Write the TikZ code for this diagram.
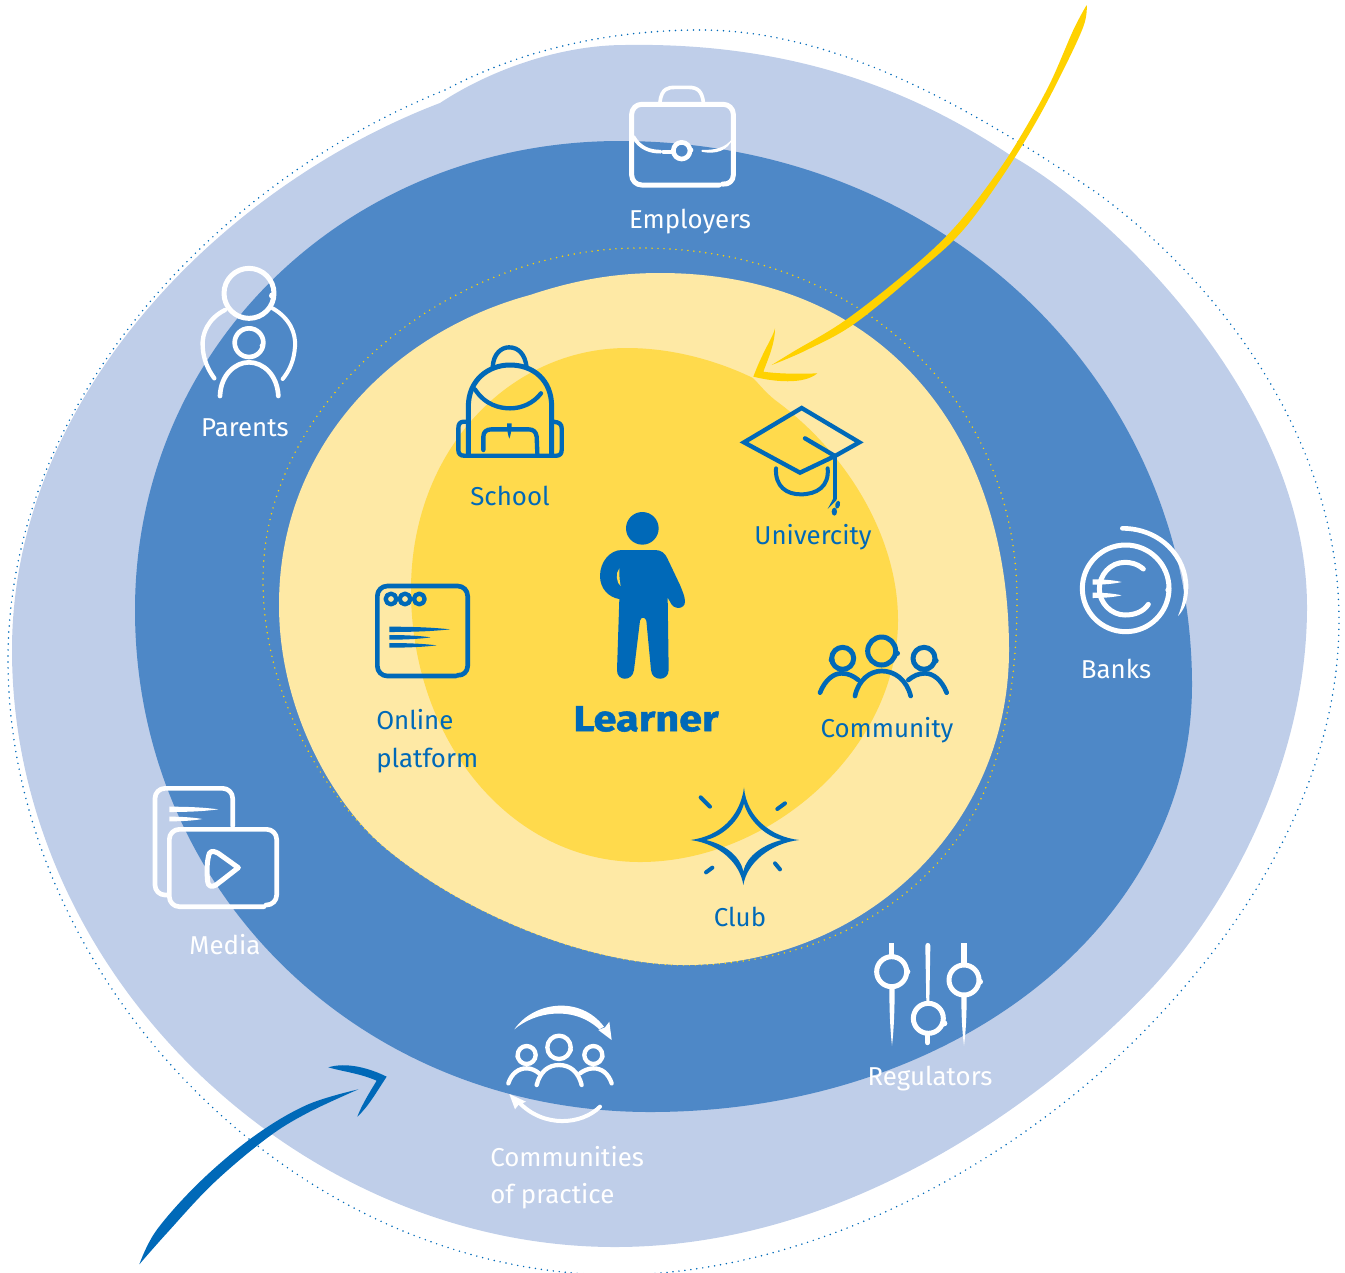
\documentclass[tikz,border=0pt]{standalone}
\usepackage{fontspec}
\setmainfont{Fira Sans}
\newfontfamily\heavyfont[FakeBold=1.5,FakeStretch=1.15]{Fira Sans Bold}
\definecolor{lblue}{HTML}{BFCEE9}
\definecolor{mblue}{HTML}{4E88C7}
\definecolor{dblue}{HTML}{0069B8}
\definecolor{lyel}{HTML}{FEE9A5}
\definecolor{myel}{HTML}{FFDA4C}
\definecolor{dyel}{HTML}{FFD200}
\tikzset{
  zm/.style 2 args={shift={(#1,#2)},x=.25pt,y=-.25pt},
  ic/.style={line cap=round,line join=round,line width=#1*.25pt},
  dots/.style={draw=#1,line width=1.25pt,line cap=round,dash pattern=on 0pt off 4.5pt},
  lab/.style={font=\fontsize{19.4pt}{24pt}\selectfont,inner sep=0pt,text=#1},
}
% horizontal and vertical tapered strokes: round at start, pointed at end
\newcommand{\hbrush}[4]{\fill ({#1},{#3-#4}) .. controls ({(#1+#2)/2},{#3-#4}) and ({#1+.8*(#2-#1)},{#3-.5*#4}) .. ({#2},{#3}) .. controls ({#1+.8*(#2-#1)},{#3+.5*#4}) and ({(#1+#2)/2},{#3+#4}) .. ({#1},{#3+#4}) -- cycle;}
\newcommand{\vbrush}[4]{\fill ({#1-#4},{#2}) .. controls ({#1-#4},{(#2+#3)/2}) and ({#1-.5*#4},{#2+.8*(#3-#2)}) .. ({#1},{#3}) .. controls ({#1+.5*#4},{#2+.8*(#3-#2)}) and ({#1+#4},{(#2+#3)/2}) .. ({#1+#4},{#2}) -- cycle;}
\begin{document}
\begin{tikzpicture}[x=.75pt,y=-.75pt]
\useasboundingbox (0,0) rectangle (1345,1272);
% blobs
\fill[lblue] (440,103) .. controls (490,70) and (560,45) .. (625,45)
  .. controls (800,42) and (920,95) .. (1010,155)
  .. controls (1110,210) and (1307,400) .. (1307,607)
  .. controls (1307,760) and (1230,905) .. (1150,990)
  .. controls (1060,1085) and (860,1247) .. (615,1247)
  .. controls (300,1247) and (12,975) .. (12,650)
  .. controls (12,395) and (225,185) .. (440,103) -- cycle;
\draw[dots=dblue] (445,90) .. controls (520,50) and (610,30) .. (700,30)
  .. controls (830,30) and (960,100) .. (1097,193)
  .. controls (1230,290) and (1339,450) .. (1339,620)
  .. controls (1339,770) and (1260,910) .. (1150,1025)
  .. controls (1030,1150) and (830,1272) .. (620,1275)
  .. controls (290,1275) and (8,975) .. (8,660)
  .. controls (8,400) and (220,180) .. (445,90) -- cycle;
\fill[mblue] (620,141) .. controls (940,141) and (1192,380) .. (1192,685)
  .. controls (1192,925) and (954,1112) .. (650,1112)
  .. controls (360,1112) and (135,891) .. (135,610)
  .. controls (135,347) and (348,141) .. (620,141) -- cycle;
\draw[dots=dyel] (640,248) .. controls (860,248) and (1017,400) .. (1017,600)
  .. controls (1017,690) and (1000,780) .. (960,835)
  .. controls (900,920) and (800,965) .. (685,965)
  .. controls (590,965) and (463,914) .. (383,846)
  .. controls (320,792) and (263,690) .. (263,580)
  .. controls (263,400) and (450,248) .. (640,248) -- cycle;
\fill[lyel] (660,273) .. controls (880,273) and (1009,430) .. (1009,650)
  .. controls (1009,830) and (860,965) .. (685,965)
  .. controls (590,965) and (463,914) .. (383,846)
  .. controls (333,803) and (279,710) .. (279,605)
  .. controls (279,440) and (400,330) .. (530,295)
  .. controls (575,280) and (615,273) .. (660,273) -- cycle;
\fill[myel] (627,348) .. controls (675,348) and (720,362) .. (753,378)
  .. controls (760,385) and (765,392) .. (775,400)
  .. controls (850,455) and (898,540) .. (898,620)
  .. controls (898,750) and (770,862) .. (640,862)
  .. controls (510,862) and (411,740) .. (411,590)
  .. controls (411,450) and (510,348) .. (627,348) -- cycle;

% yellow arrow
\begin{scope}[zm={740}{0},fill=dyel]
\fill plot[smooth,tension=.6] coordinates {(1040,15)(1030,80)(960,230)(880,380)(780,540)(665,695)(540,810)(345,970)(200,1050)(95,1095)} -- plot[smooth,tension=.6] coordinates {(95,1095)(160,1055)(320,958)(520,800)(650,675)(770,520)(850,395)(930,250)(1000,90)(1040,15)} -- cycle;
\fill (105,985) .. controls (100,1010) and (70,1050) .. (40,1130) .. controls (100,1145) and (190,1155) .. (232,1120) .. controls (180,1122) and (120,1122) .. (70,1115) .. controls (85,1075) and (105,1030) .. (105,985) -- cycle;
\end{scope}

% blue arrow
\begin{scope}[zm={120}{1050},fill=dblue]
\fill plot[smooth,tension=.6] coordinates {(58,643)(110,540)(240,395)(400,260)(560,165)(715,118)} -- plot[smooth,tension=.6] coordinates {(715,118)(560,190)(440,265)(280,400)(140,550)(58,643)} -- cycle;
\fill (625,52) .. controls (680,35) and (750,55) .. (800,80) .. controls (770,125) and (745,170) .. (712,200) .. controls (725,165) and (750,125) .. (770,92) .. controls (720,70) and (670,65) .. (625,52) -- cycle;
\end{scope}

% Employers icon
\begin{scope}[zm={600}{70},draw=white,fill=white]
\draw[ic=15,rounded corners=7.5pt] (358,345) -- (95,345) -- (95,103) -- (400,103) -- (400,345) -- (368,342);
\draw[ic=11] (180,95) .. controls (185,55) and (205,52) .. (225,52) -- (265,52) .. controls (295,52) and (305,65) .. (310,95);
\draw[ic=11] (100,200) .. controls (120,235) and (150,245) .. (182,245);
\draw[ic=11] (190,245) -- (215,245);
\draw[ic=14] (245,242) circle (25);
\fill (272,240) circle (8);
\fill (305,240) .. controls (345,240) and (375,235) .. (398,205) .. controls (385,240) and (350,255) .. (305,245) -- cycle;
\end{scope}
\node[lab=white] (lemp) at (690,222) {Employers};

% Parents icon
\begin{scope}[zm={180}{250},draw=white,fill=white]
\draw[ic=15] (207,130) circle (75);
\fill (277,137) circle (10);
\draw[ic=13] (135,180) .. controls (85,205) and (65,250) .. (68,290) .. controls (70,330) and (85,360) .. (103,385);
\draw[ic=12] (278,175) .. controls (330,205) and (348,250) .. (345,290) .. controls (342,330) and (330,360) .. (308,387);
\draw[ic=14] (207,278) circle (43);
\fill (247,287) circle (8);
\draw[ic=14] (120,438) .. controls (122,375) and (165,337) .. (207,337) .. controls (250,337) and (292,375) .. (295,438);
\end{scope}
\node[lab=white] (lpar) at (245,428) {Parents};

% School icon
\begin{scope}[zm={440}{330},draw=dblue,fill=dblue]
\draw[ic=13] (158,112) .. controls (160,70) and (185,52) .. (207,52) .. controls (235,52) and (255,72) .. (260,112);
\draw[ic=15] (85,375) -- (85,230) .. controls (85,150) and (145,105) .. (210,105) .. controls (280,105) and (335,150) .. (335,230) -- (335,375);
\draw[ic=13] (105,178) .. controls (135,225) and (180,235) .. (210,235) .. controls (245,235) and (280,220) .. (303,190);
\draw[ic=13] (130,360) -- (130,320) .. controls (130,305) and (140,298) .. (155,298) -- (265,298) .. controls (280,298) and (288,305) .. (290,320) -- (292,370);
\vbrush{208}{280}{326}{7}
\draw[ic=13] (80,275) -- (72,275) .. controls (60,275) and (55,282) .. (55,295) -- (55,360) .. controls (55,372) and (62,377) .. (72,377) -- (350,377) .. controls (360,377) and (365,370) .. (365,360) -- (365,295) .. controls (365,282) and (358,277) .. (340,275);
\end{scope}
\node[lab=dblue] (lsch) at (510,496) {School};

% University icon
\begin{scope}[zm={440}{330},draw=dblue,fill=dblue]
\draw[ic=13,miter limit=10,line join=miter] (912,337) -- (1085,234) -- (1258,337) -- (1185,378) -- (1080,428) -- cycle;
\draw[ic=13] (1095,325) -- (1185,378);
\draw[ic=12] (1185,378) -- (1185,505);
\draw[ic=12] (1008,415) .. controls (1005,470) and (1040,493) .. (1082,493) .. controls (1130,493) and (1168,470) .. (1163,415);
\fill (1180,505) -- (1163,537) -- (1190,510) -- cycle;
\fill[rotate around={-15:(1193,524)}] (1193,524) ellipse (7 and 12);
\fill (1183,545) ellipse (8 and 12);
\end{scope}
\node[lab=dblue] (luni) at (813,537) {Univercity};

% Online platform icon
\begin{scope}[zm={360}{500},draw=dblue,fill=dblue]
\draw[ic=14,rounded corners=7.5pt] (288,528) -- (52,528) -- (52,258) -- (323,258) -- (323,528) -- (295,526);
\draw[ic=13] (93,297) circle (16) (135,297) circle (16) (178,297) circle (16);
\hbrush{88}{270}{388}{8}
\hbrush{88}{212}{412}{7}
\hbrush{88}{230}{436}{7}
\end{scope}
\node[lab=dblue,anchor=west] (lonl) at (376,720) {Online};
\node[lab=dblue,anchor=west] (lpla) at (376,761) {platform};

% Learner figure
\begin{scope}[zm={360}{500},fill=dblue]
\fill (847,85) circle (49);
\fill (785,150) -- (885,150) .. controls (905,150) and (915,160) .. (922,175) -- (960,255) .. controls (968,275) and (975,290) .. (975,305) .. controls (975,328) and (940,332) .. (930,305) -- (923,293) -- (926,510) .. controls (926,545) and (875,545) .. (873,510) -- (859,362) .. controls (855,350) and (843,350) .. (840,362) -- (822,510) .. controls (818,545) and (770,545) .. (771,510) -- (778,297) .. controls (745,292) and (720,265) .. (720,228) .. controls (720,185) and (750,150) .. (785,150) -- cycle;
\fill[myel] (778,205) .. controls (765,220) and (770,250) .. (782,258) .. controls (778,240) and (778,225) .. (778,205) -- cycle;
\end{scope}
\node[lab=dblue,font=\heavyfont\fontsize{27pt}{30pt}\selectfont] (llea) at (646,719) {Learner};

% Community icon
\begin{scope}[zm={680}{620},draw=dblue,fill=dblue]
\draw[ic=15] (488,115) circle (33) (605,93) circle (42) (732,115) circle (33);
\fill (455,120) circle (9) (652,100) circle (8) (768,122) circle (8);
\draw[ic=14] (420,218) .. controls (435,180) and (460,160) .. (485,160) .. controls (505,160) and (520,168) .. (535,180);
\draw[ic=14] (525,228) .. controls (535,180) and (570,153) .. (605,153) .. controls (645,153) and (680,180) .. (692,228);
\draw[ic=14] (685,180) .. controls (700,168) and (715,160) .. (735,160) .. controls (760,160) and (785,180) .. (800,218);
\end{scope}
\node[lab=dblue] (lcom) at (887,730) {Community};

% Club icon
\begin{scope}[zm={680}{620},draw=dblue,fill=dblue]
\fill[even odd rule] (192,503) .. controls (200,590) and (270,650) .. (357,660) .. controls (270,670) and (200,730) .. (190,795) .. controls (180,730) and (120,672) .. (32,660) .. controls (120,648) and (180,590) .. (192,503) -- cycle
 (192,550) .. controls (205,600) and (255,648) .. (305,660) .. controls (255,672) and (200,705) .. (190,755) .. controls (180,705) and (130,672) .. (78,660) .. controls (130,648) and (180,600) .. (192,550) -- cycle;
\draw[ic=12] (62,532) -- (90,560) (315,550) -- (292,567) (78,757) -- (97,743) (285,730) -- (300,748);
\end{scope}
\node[lab=dblue] (lclu) at (740,917) {Club};

% Banks icon
\begin{scope}[zm={1060}{510},draw=white,fill=white]
\draw[ic=15] (197,235) circle (130);
\fill (325,240) circle (9);
\draw[ic=14] (187,55) .. controls (300,55) and (380,140) .. (378,235);
\fill (372,235) -- (384,235) .. controls (385,270) and (372,300) .. (354,318) .. controls (365,290) and (372,265) .. (372,235) -- cycle;
\draw[ic=15] (250,177) .. controls (230,160) and (210,157) .. (195,157) .. controls (150,157) and (118,195) .. (118,237) .. controls (118,280) and (155,315) .. (195,315) .. controls (225,315) and (250,305) .. (265,283);
\hbrush{98}{185}{216}{8}
\hbrush{98}{185}{256}{8}
\end{scope}
\node[lab=white] (lban) at (1116,669) {Banks};

% Media icon
\begin{scope}[zm={140}{770},draw=white,fill=white]
\draw[ic=14,rounded corners=7.5pt] (278,168) -- (278,55) -- (45,55) -- (45,375) -- (85,375);
\draw[ic=14,rounded corners=7.5pt] (372,410) -- (88,410) -- (88,178) -- (410,178) -- (410,405) -- (378,405);
\draw[ic=15] (208,250) .. controls (215,240) and (225,245) .. (235,250) -- (295,293) -- (228,345) .. controls (215,352) and (205,350) .. (203,335) .. controls (200,305) and (200,275) .. (208,250) -- cycle;
\hbrush{88}{235}{118}{8}
\hbrush{88}{187}{147}{7}
\end{scope}
\node[lab=white] (lmed) at (225,945) {Media};

% Communities icon
\begin{scope}[zm={480}{990},draw=white,fill=white]
\draw[ic=13] (140,195) circle (27) (237,172) circle (35) (340,195) circle (27);
\fill (113,200) circle (7) (272,180) circle (7) (367,200) circle (7);
\draw[ic=13] (85,280) .. controls (95,250) and (115,235) .. (140,235) .. controls (155,235) and (168,242) .. (177,250);
\draw[ic=13] (170,285) .. controls (180,245) and (205,225) .. (237,225) .. controls (270,225) and (295,245) .. (305,285);
\draw[ic=13] (300,250) .. controls (310,242) and (325,235) .. (340,235) .. controls (365,235) and (385,250) .. (395,280);
\fill (103,118) .. controls (160,35) and (300,15) .. (372,110) -- (358,118) .. controls (280,45) and (165,65) .. (103,118) -- cycle;
\fill (395,150) -- (355,120) -- (375,112) -- (388,95) -- cycle;
\draw[ic=12] (360,350) .. controls (305,405) and (190,415) .. (115,335);
\fill (88,312) -- (138,335) -- (115,345) -- (105,358) -- cycle;
\end{scope}
\node[lab=white,anchor=west] (lcop) at (490,1157) {Communities};
\node[lab=white,anchor=west] (lcoq) at (490,1196) {of practice};

% Regulators icon
\begin{scope}[zm={850}{930},draw=white,fill=white]
\draw[ic=15] (125,125) circle (45) (235,265) circle (45) (342,150) circle (45);
\fill (172,125) circle (9) (283,280) circle (9) (390,155) circle (9);
\fill (118,40) rectangle (133,80);
\vbrush{126}{170}{347}{8}
\fill (226,47) .. controls (226,36) and (241,36) .. (241,47) -- (238,220) -- (229,220) -- cycle;
\draw[ic=15] (233,310) -- (233,338);
\fill (334,40) rectangle (350,105);
\vbrush{342}{195}{347}{8}
\end{scope}
\node[lab=white] (lreg) at (930,1079) {Regulators};
\end{tikzpicture}
\end{document}
